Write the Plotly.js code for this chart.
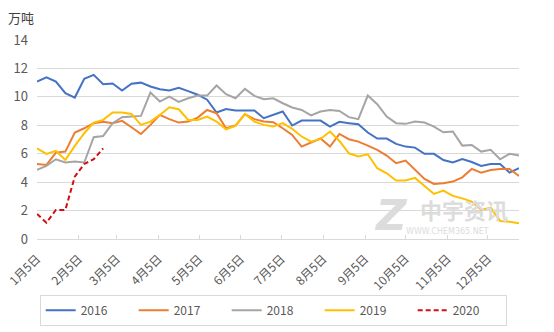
<!DOCTYPE html>
<html>
<head>
<meta charset="utf-8">
<script src="https://cdn.plot.ly/plotly-3.0.1.min.js"></script>
<style>html,body{margin:0;padding:0;background:#fff;}#chart{width:554px;height:332px;}</style>
</head>
<body>
<div id="chart"></div>
<script>
var weeks = ["2019-01-05","2019-01-12","2019-01-19","2019-01-26","2019-02-02","2019-02-09","2019-02-16","2019-02-23",
"2019-03-02","2019-03-09","2019-03-16","2019-03-23","2019-03-30","2019-04-06","2019-04-13","2019-04-20","2019-04-27",
"2019-05-04","2019-05-11","2019-05-18","2019-05-25","2019-06-01","2019-06-08","2019-06-15","2019-06-22","2019-06-29",
"2019-07-06","2019-07-13","2019-07-20","2019-07-27","2019-08-03","2019-08-10","2019-08-17","2019-08-24","2019-08-31",
"2019-09-07","2019-09-14","2019-09-21","2019-09-28","2019-10-05","2019-10-12","2019-10-19","2019-10-26",
"2019-11-02","2019-11-09","2019-11-16","2019-11-23","2019-11-30","2019-12-07","2019-12-14","2019-12-21","2019-12-28"];

var y2016 = [11.08,11.38,11.08,10.26,9.95,11.27,11.55,10.89,10.94,10.45,10.92,11.0,10.73,10.54,10.45,10.63,10.4,10.15,9.8,8.9,9.15,9.04,9.04,9.04,8.5,8.73,
8.97,7.98,8.33,8.33,8.33,7.91,8.24,8.15,8.07,7.49,7.07,7.07,6.69,6.5,6.43,5.99,5.99,5.56,5.38,5.63,5.42,5.14,5.28,5.28,4.67,4.98];
var y2017 = [5.28,5.21,6.08,6.15,7.49,7.79,8.15,8.24,8.15,8.31,7.86,7.39,8.03,8.73,8.43,8.19,8.26,8.54,9.08,8.85,7.79,7.98,8.78,8.43,8.26,8.22,
7.79,7.32,6.5,6.78,7.07,6.5,7.39,7.02,6.85,6.57,6.27,5.87,5.33,5.52,4.86,4.23,3.87,3.92,4.04,4.34,4.93,4.67,4.86,4.93,4.93,4.44];
var y2018 = [4.86,5.14,5.61,5.38,5.45,5.38,7.16,7.25,8.15,8.57,8.61,8.66,10.3,9.67,10.02,9.65,9.9,10.09,10.09,10.8,10.19,9.9,10.56,10.07,9.84,9.9,
9.55,9.25,9.08,8.69,8.97,9.08,9.01,8.57,8.43,10.09,9.48,8.61,8.15,8.1,8.26,8.19,7.91,7.51,7.56,6.57,6.62,6.15,6.27,5.61,5.99,5.87];
var y2019 = [6.38,5.99,6.2,5.56,6.55,7.44,8.19,8.38,8.9,8.9,8.8,8.03,8.26,8.73,9.27,9.13,8.38,8.38,8.61,8.26,7.72,7.96,8.8,8.26,8.03,7.91,
8.15,7.75,7.21,6.85,7.04,7.56,6.9,6.03,5.8,5.96,4.98,4.62,4.11,4.11,4.3,3.73,3.17,3.4,3.03,2.86,2.63,2.04,2.21,1.27,1.22,1.1];
var y2020 = [1.76,1.15,2.04,2.04,4.39,5.28,5.61,6.38];

var tickDates = ["2019-01-05","2019-02-05","2019-03-05","2019-04-05","2019-05-05","2019-06-05","2019-07-05","2019-08-05","2019-09-05","2019-10-05","2019-11-05","2019-12-05"];
var tickLabels = ["1月5日","2月5日","3月5日","4月5日","5月5日","6月5日","7月5日","8月5日","9月5日","10月5日","11月5日","12月5日"];

var seriesNames = ["2016","2017","2018","2019","2020"];
var seriesData = [y2016, y2017, y2018, y2019, y2020];
var colors = ["#4472C4","#ED7D31","#A5A5A5","#FFC000","#D01010"];

var traces = seriesData.map(function(d, k){
  return {
    type: "scatter", mode: "lines", name: seriesNames[k],
    x: weeks.slice(0, d.length), y: d,
    line: {color: colors[k], width: 2, dash: k === 4 ? "5px,3px" : "solid"},
    hoverinfo: "skip"
  };
});

var font = "'Noto Sans CJK SC', 'Noto Sans', sans-serif";
var layout = {
  width: 554, height: 332,
  margin: {l: 37, r: 35, t: 40, b: 93, autoexpand: false},
  paper_bgcolor: "#fff", plot_bgcolor: "#fff",
  font: {family: font, size: 12, color: "#595959"},
  showlegend: true,
  xaxis: {
    type: "date", range: ["2019-01-05", "2019-12-28"],
    tickmode: "array", tickvals: tickDates, ticktext: tickLabels,
    tickangle: -45, ticks: "inside", ticklen: 4, tickcolor: "#d9d9d9",
    showgrid: false, showline: true, linecolor: "#d9d9d9", linewidth: 1,
    zeroline: false, tickfont: {size: 12, color: "#595959"}, automargin: false,
    ticklabelstandoff: 7
  },
  yaxis: {
    range: [0, 14], tickvals: [0,2,4,6,8,10,12,14],
    showgrid: true, gridcolor: "#d9d9d9", gridwidth: 1,
    zeroline: false, showline: false, ticks: "",
    ticklabelstandoff: 8, tickfont: {size: 13, color: "#595959"}, automargin: false
  },
  legend: {
    orientation: "h", x: 0.49, xanchor: "center", y: -0.28, yanchor: "top",
    bordercolor: "#d9d9d9", borderwidth: 1,
    entrywidth: 48, entrywidthmode: "pixels",
    font: {size: 12, color: "#595959"}
  },
  annotations: [
    {text: "万吨", xref: "paper", yref: "paper", x: -0.064, y: 1.115, xanchor: "left", yanchor: "middle",
     showarrow: false, font: {size: 13, color: "#404040"}},
    {text: "<b><i>Z</i></b>", xref: "paper", yref: "paper", x: 0.735, y: 0.12, xanchor: "center", yanchor: "middle",
     showarrow: false, font: {size: 42, color: "#dcdcdc", family: "'DejaVu Sans', sans-serif"}},
    {text: "<b>中宇资讯</b>", xref: "paper", yref: "paper", x: 0.885, y: 0.15, xanchor: "center", yanchor: "middle",
     showarrow: false, font: {size: 22, color: "#dcdcdc"}},
    {text: "WWW.CHEM365.NET", xref: "paper", yref: "paper", x: 0.852, y: 0.04, xanchor: "center", yanchor: "middle",
     showarrow: false, font: {size: 8, color: "#dcdcdc", family: "'DejaVu Sans', sans-serif"}}
  ]
};

Plotly.newPlot("chart", traces, layout, {displayModeBar: false, staticPlot: true});
</script>
</body>
</html>
